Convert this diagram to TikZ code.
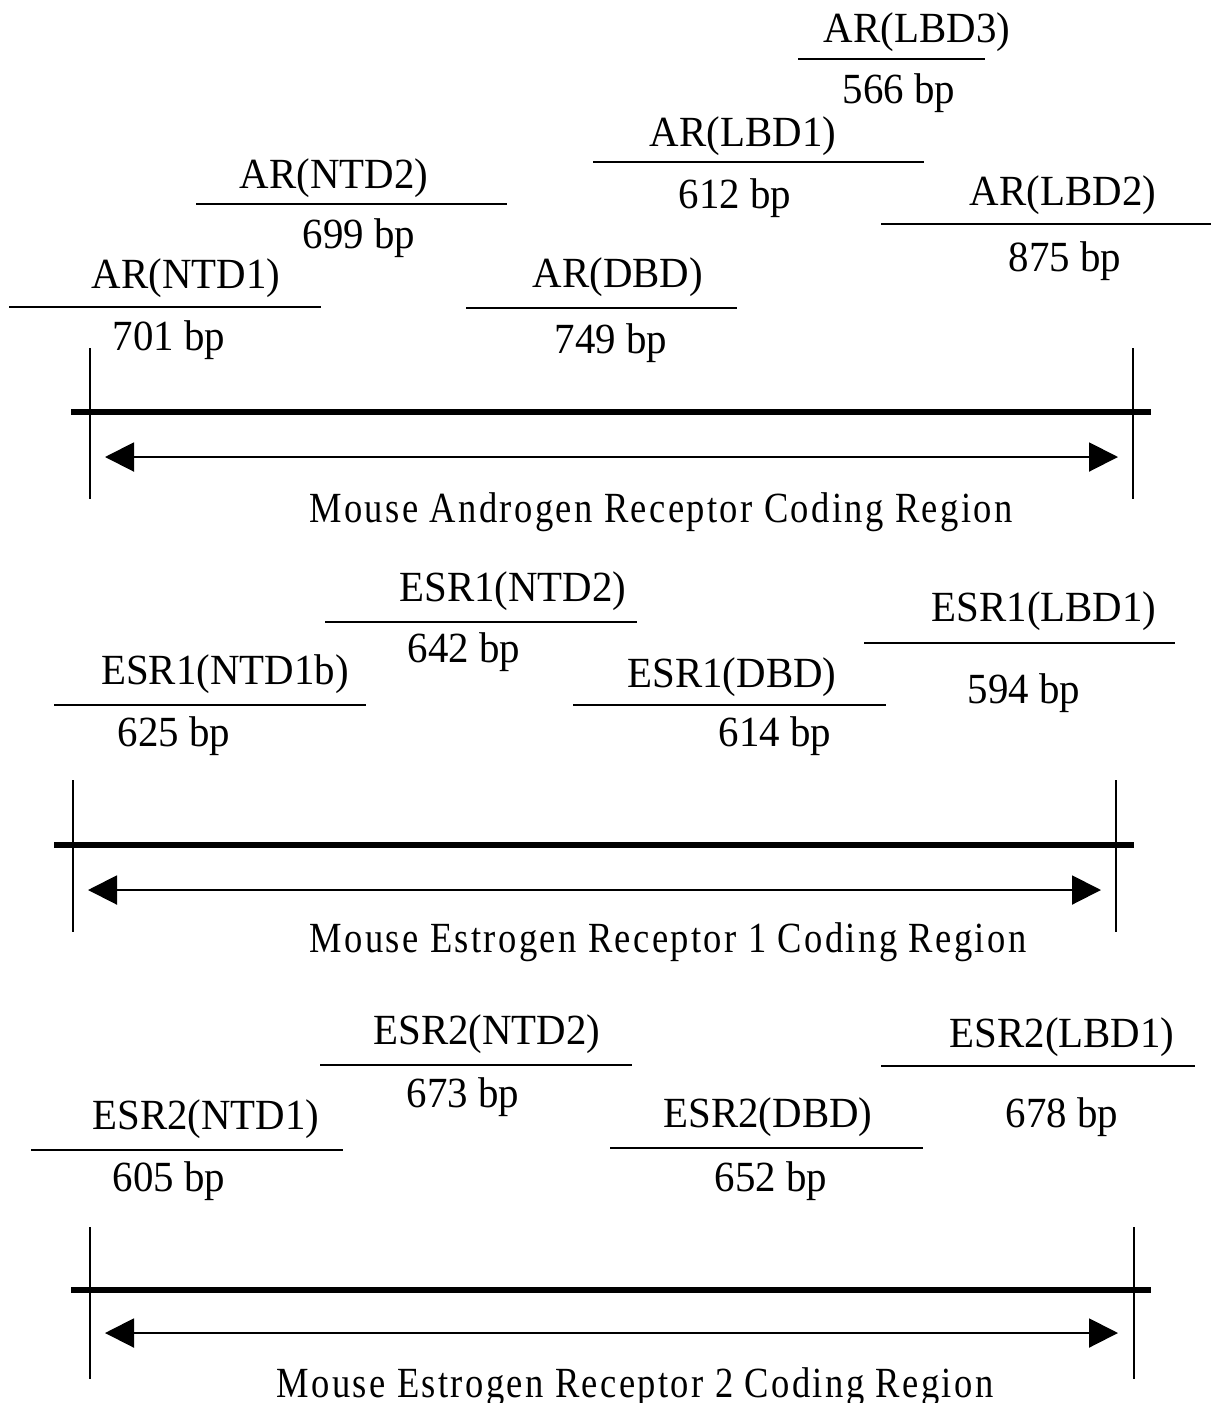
\documentclass[tikz,border=0pt]{standalone}
\usepackage{fontspec}
\setmainfont{Liberation Serif}
\newfontfamily\lblfont[FakeStretch=0.95]{Liberation Serif}
\newfontfamily\titlefont[FakeStretch=0.85,LetterSpace=5.5]{Liberation Serif}
\usetikzlibrary{arrows.meta}
\begin{document}
\begin{tikzpicture}[x=1pt,y=-1pt,
  lbl/.style={anchor=base, inner sep=0pt, font=\lblfont\fontsize{43}{43}\selectfont},
  ttl/.style={anchor=base, inner sep=0pt, font=\titlefont\fontsize{43}{43}\selectfont},
  seg/.style={line width=2pt, draw=black},
  axis/.style={line width=6.5pt, draw=black},
  tick/.style={line width=2pt, draw=black},
  span/.style={line width=2pt, draw=black, {Triangle[length=29pt,width=29pt]}-{Triangle[length=29pt,width=29pt]}}]
\fill[white] (0,0) rectangle (1211,1403);
\path[use as bounding box] (0,0) rectangle (1211,1403);

% ===== Androgen receptor =====
\node[lbl] (arlbd3) at (917,42) {AR(LBD3)};
\coordinate (arlbd3a) at (798,59); \coordinate (arlbd3b) at (985,59);
\draw[seg] (arlbd3a) -- (arlbd3b);
\node[lbl] (arlbd3bp) at (899,103) {566 bp};

\node[lbl] (arlbd1) at (743,146) {AR(LBD1)};
\coordinate (arlbd1a) at (593,162); \coordinate (arlbd1b) at (924,162);
\draw[seg] (arlbd1a) -- (arlbd1b);
\node[lbl] (arlbd1bp) at (735,208) {612 bp};

\node[lbl] (arntd2) at (334,188) {AR(NTD2)};
\coordinate (arntd2a) at (196,204); \coordinate (arntd2b) at (507,204);
\draw[seg] (arntd2a) -- (arntd2b);
\node[lbl] (arntd2bp) at (359,248) {699 bp};

\node[lbl] (arlbd2) at (1063,205) {AR(LBD2)};
\coordinate (arlbd2a) at (881,224); \coordinate (arlbd2b) at (1211,224);
\draw[seg] (arlbd2a) -- (arlbd2b);
\node[lbl] (arlbd2bp) at (1065,271) {875 bp};

\node[lbl] (arntd1) at (186,288) {AR(NTD1)};
\coordinate (arntd1a) at (9,307); \coordinate (arntd1b) at (321,307);
\draw[seg] (arntd1a) -- (arntd1b);
\node[lbl] (arntd1bp) at (169,350) {701 bp};

\node[lbl] (ardbd) at (618,287) {AR(DBD)};
\coordinate (ardbda) at (466,308); \coordinate (ardbdb) at (737,308);
\draw[seg] (ardbda) -- (ardbdb);
\node[lbl] (ardbdbp) at (611,353) {749 bp};

\coordinate (arvl1) at (90,348); \coordinate (arvl2) at (90,499);
\coordinate (arvr1) at (1133,348); \coordinate (arvr2) at (1133,499);
\draw[tick] (arvl1) -- (arvl2);
\draw[tick] (arvr1) -- (arvr2);
\coordinate (araxa) at (71,412); \coordinate (araxb) at (1151,412);
\draw[axis] (araxa) -- (araxb);
\coordinate (arspa) at (105,457); \coordinate (arspb) at (1118,457);
\draw[span] (arspa) -- (arspb);
\node[ttl] (artitle) at (661,522) {Mouse Androgen Receptor Coding Region};

% ===== Estrogen receptor 1 =====
\node[lbl] (eantd2) at (513,601) {ESR1(NTD2)};
\coordinate (eantd2a) at (325,622); \coordinate (eantd2b) at (637,622);
\draw[seg] (eantd2a) -- (eantd2b);
\node[lbl] (eantd2bp) at (464,662) {642 bp};

\node[lbl] (ealbd1) at (1044,621) {ESR1(LBD1)};
\coordinate (ealbd1a) at (864,643); \coordinate (ealbd1b) at (1175,643);
\draw[seg] (ealbd1a) -- (ealbd1b);
\node[lbl] (ealbd1bp) at (1024,703) {594 bp};

\node[lbl] (eantd1b) at (225,684) {ESR1(NTD1b)};
\coordinate (eantd1ba) at (54,705); \coordinate (eantd1bb) at (366,705);
\draw[seg] (eantd1ba) -- (eantd1bb);
\node[lbl] (eantd1bbp) at (174,746) {625 bp};

\node[lbl] (eadbd) at (732,687) {ESR1(DBD)};
\coordinate (eadbda) at (573,705); \coordinate (eadbdb) at (886,705);
\draw[seg] (eadbda) -- (eadbdb);
\node[lbl] (eadbdbp) at (775,746) {614 bp};

\coordinate (eavl1) at (73,780); \coordinate (eavl2) at (73,932);
\coordinate (eavr1) at (1116,780); \coordinate (eavr2) at (1116,932);
\draw[tick] (eavl1) -- (eavl2);
\draw[tick] (eavr1) -- (eavr2);
\coordinate (eaaxa) at (54,845); \coordinate (eaaxb) at (1134,845);
\draw[axis] (eaaxa) -- (eaaxb);
\coordinate (easpa) at (88,890); \coordinate (easpb) at (1101,890);
\draw[span] (easpa) -- (easpb);
\node[ttl] (eatitle) at (668,952) {Mouse Estrogen Receptor 1 Coding Region};

% ===== Estrogen receptor 2 =====
\node[lbl] (ebntd2) at (487,1044) {ESR2(NTD2)};
\coordinate (ebntd2a) at (320,1065); \coordinate (ebntd2b) at (632,1065);
\draw[seg] (ebntd2a) -- (ebntd2b);
\node[lbl] (ebntd2bp) at (463,1107) {673 bp};

\node[lbl] (eblbd1) at (1062,1047) {ESR2(LBD1)};
\coordinate (eblbd1a) at (881,1066); \coordinate (eblbd1b) at (1195,1066);
\draw[seg] (eblbd1a) -- (eblbd1b);
\node[lbl] (eblbd1bp) at (1062,1127) {678 bp};

\node[lbl] (ebntd1) at (206,1129) {ESR2(NTD1)};
\coordinate (ebntd1a) at (31,1150); \coordinate (ebntd1b) at (343,1150);
\draw[seg] (ebntd1a) -- (ebntd1b);
\node[lbl] (ebntd1bp) at (169,1191) {605 bp};

\node[lbl] (ebdbd) at (768,1127) {ESR2(DBD)};
\coordinate (ebdbda) at (610,1148); \coordinate (ebdbdb) at (923,1148);
\draw[seg] (ebdbda) -- (ebdbdb);
\node[lbl] (ebdbdbp) at (771,1191) {652 bp};

\coordinate (ebvl1) at (90,1227); \coordinate (ebvl2) at (90,1379);
\coordinate (ebvr1) at (1134,1227); \coordinate (ebvr2) at (1134,1379);
\draw[tick] (ebvl1) -- (ebvl2);
\draw[tick] (ebvr1) -- (ebvr2);
\coordinate (ebaxa) at (71,1290); \coordinate (ebaxb) at (1151,1290);
\draw[axis] (ebaxa) -- (ebaxb);
\coordinate (ebspa) at (105,1333); \coordinate (ebspb) at (1118,1333);
\draw[span] (ebspa) -- (ebspb);
\node[ttl] (ebtitle) at (635,1397) {Mouse Estrogen Receptor 2 Coding Region};
\end{tikzpicture}
\end{document}
